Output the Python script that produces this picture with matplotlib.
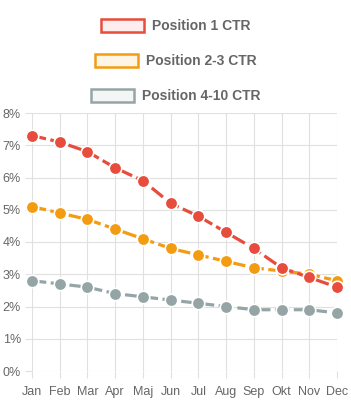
import numpy as np
import matplotlib
matplotlib.use('Agg')
import matplotlib.pyplot as plt
from matplotlib.patches import Patch
from matplotlib.ticker import FuncFormatter

plt.rcParams['font.family'] = ['Liberation Sans', 'DejaVu Sans']

months = ['Jan', 'Feb', 'Mar', 'Apr', 'Maj', 'Jun', 'Jul', 'Aug', 'Sep', 'Okt', 'Nov', 'Dec']
pos1 = [7.3, 7.1, 6.8, 6.3, 5.9, 5.2, 4.8, 4.3, 3.8, 3.2, 2.9, 2.6]
pos23 = [5.1, 4.9, 4.7, 4.4, 4.1, 3.8, 3.6, 3.4, 3.2, 3.1, 3.0, 2.8]
pos410 = [2.8, 2.7, 2.6, 2.4, 2.3, 2.2, 2.1, 2.0, 1.9, 1.9, 1.9, 1.8]
labels = ['Position 1 CTR', 'Position 2-3 CTR', 'Position 4-10 CTR']
colors = ['#e74c3c', '#f39c12', '#95a5a6']
fills = ['#fdeded', '#fef5e7', '#f4f6f6']

fig = plt.figure(figsize=(3.51, 4.0), dpi=100)
ax = fig.add_axes([32 / 351, 29 / 400, 305 / 351, 258 / 400])

x = np.arange(len(months))
series = [pos1, pos23, pos410]
for i, (vals, c) in enumerate(zip(series, colors)):
    ax.plot(x, vals, color=c, lw=2.3, dashes=(4.5, 1.4), marker='o', ms=9,
            mfc=c, mec='white', mew=1.2, zorder=5 - i, clip_on=False)

ax.set_xlim(0, len(months) - 1)
ax.set_ylim(0, 8)
ax.set_xticks(x)
ax.set_xticklabels(months)
ax.set_yticks(np.arange(0, 9, 1))
ax.yaxis.set_major_formatter(FuncFormatter(lambda v, p: '%d%%' % v))
ax.grid(True, color='#e0e0e0', lw=0.8)
for s in ax.spines.values():
    s.set_visible(False)
ax.tick_params(length=5, color='#e0e0e0', labelcolor='#666666', labelsize=9, pad=3)
ax.tick_params(axis='x', pad=6)

for j, (lab, c, f) in enumerate(zip(labels, colors, fills)):
    h = Patch(facecolor=f, edgecolor=c, lw=1.8, label=lab)
    fig.legend(handles=[h], loc='center', bbox_to_anchor=(0.5, 1 - (26 + 35 * j) / 400),
               frameon=False, handlelength=3.1, handleheight=1.05, handletextpad=0.55,
               prop={'weight': 'bold', 'size': 10}, labelcolor='#666666',
               borderpad=0, borderaxespad=0)

fig.savefig('out.png', dpi=100)
